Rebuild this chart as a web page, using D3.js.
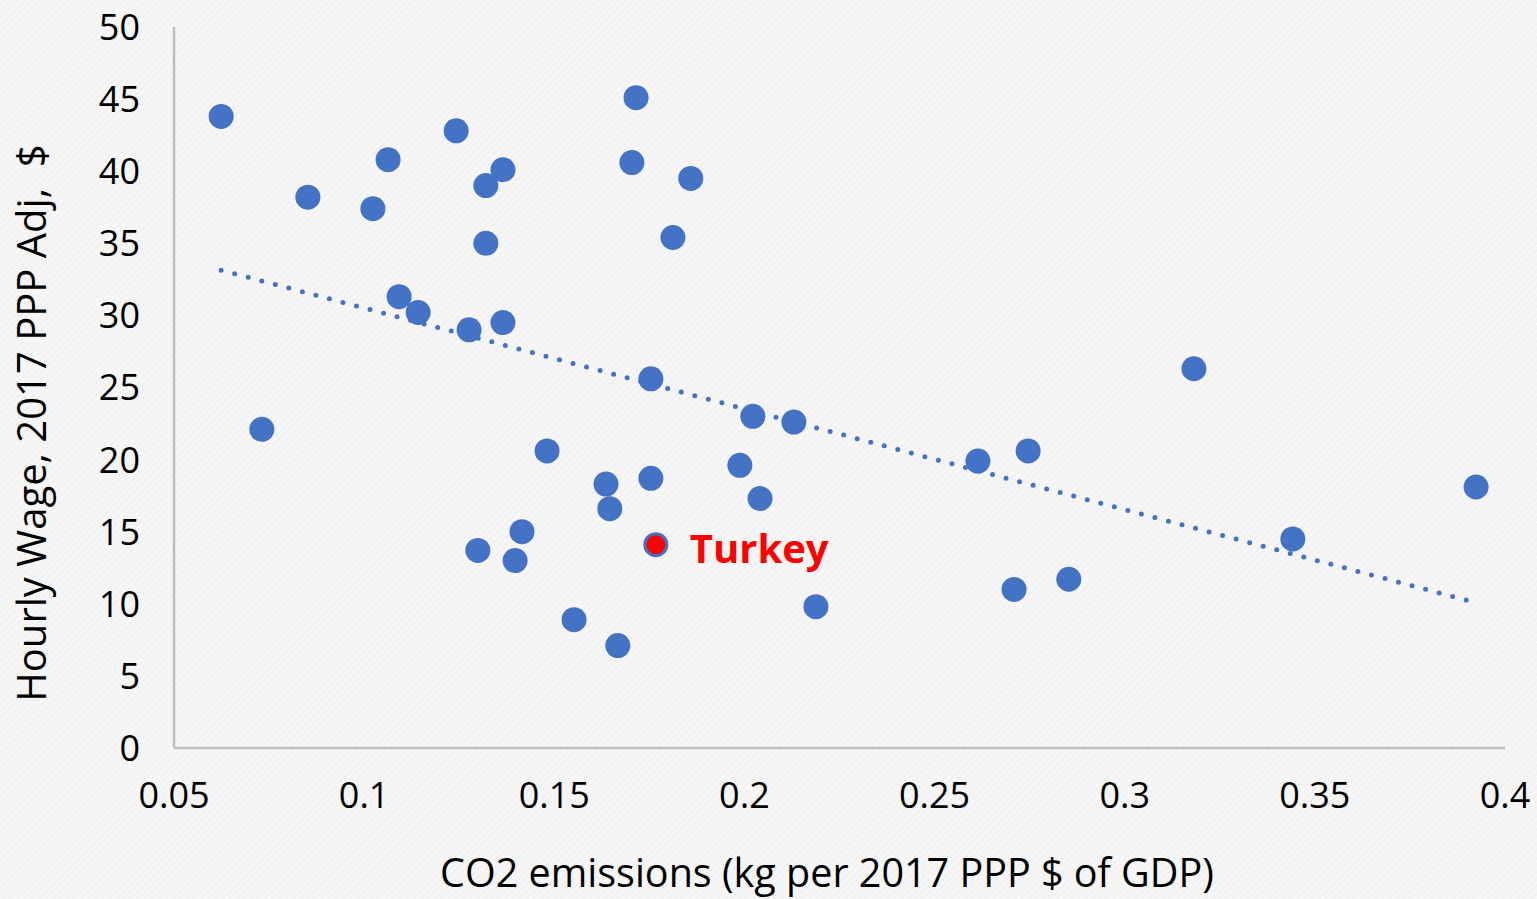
<!DOCTYPE html>
<html>
<head>
<meta charset="utf-8">
<script src="https://cdn.jsdelivr.net/npm/d3@7"></script>
<style>
  html, body { margin: 0; padding: 0; background: #f5f5f5; }
  svg { display: block; font-family: "Open Sans", "Noto Sans", sans-serif; }
</style>
</head>
<body>
<div id="chart"></div>
<script>
// CO2 intensity (kg per 2017 PPP $ of GDP) vs hourly wage
var co2 = [0.0624, 0.0731, 0.0852, 0.1023, 0.1063, 0.1092, 0.1142, 0.1242, 0.1276, 0.1299,
           0.1320, 0.1320, 0.1365, 0.1365, 0.1397, 0.1415, 0.1481, 0.1552, 0.1636, 0.1646,
           0.1667, 0.1704, 0.1715, 0.1754, 0.1754, 0.1812, 0.1859, 0.1988, 0.2022, 0.2041,
           0.2130, 0.2188, 0.2614, 0.2709, 0.2746, 0.2853, 0.3182, 0.3442, 0.3924];
var wage = [43.8, 22.1, 38.2, 37.4, 40.8, 31.3, 30.2, 42.8, 29.0, 13.7,
            39.0, 35.0, 40.1, 29.5, 13.0, 15.0, 20.6, 8.9, 18.3, 16.6,
            7.1, 40.6, 45.1, 25.6, 18.7, 35.4, 39.5, 19.6, 23.0, 17.3,
            22.6, 9.8, 19.9, 11.0, 20.6, 11.7, 26.3, 14.5, 18.1];
// highlighted country
var turkey = { name: "Turkey", co2: 0.1767, wage: 14.1 };

var xTicks = [0.05, 0.1, 0.15, 0.2, 0.25, 0.3, 0.35, 0.4];
var yTicks = [0, 5, 10, 15, 20, 25, 30, 35, 40, 45, 50];

var width = 1537, height = 899;
var blue = "#4472c4";

var svg = d3.select("#chart").append("svg")
    .attr("width", width)
    .attr("height", height);

// hatched background
var defs = svg.append("defs");
var pat = defs.append("pattern")
    .attr("id", "hatch")
    .attr("patternUnits", "userSpaceOnUse")
    .attr("width", 5).attr("height", 5)
    .attr("patternTransform", "rotate(45)");
pat.append("rect").attr("width", 5).attr("height", 5).attr("fill", "#f3f3f3");
pat.append("line")
    .attr("x1", 0).attr("y1", 0).attr("x2", 0).attr("y2", 5)
    .attr("stroke", "#fbfbfb").attr("stroke-width", 2);
svg.append("rect").attr("width", width).attr("height", height).attr("fill", "url(#hatch)");

var x = d3.scaleLinear().domain([0.05, 0.4]).range([174, 1505]);
var y = d3.scaleLinear().domain([0, 50]).range([748, 27]);

// axes lines
svg.append("line")
    .attr("x1", x(0.05)).attr("x2", x(0.05))
    .attr("y1", y(50)).attr("y2", y(0))
    .attr("stroke", "#bfbfbf").attr("stroke-width", 2.5);
svg.append("line")
    .attr("x1", x(0.05)).attr("x2", x(0.4))
    .attr("y1", y(0)).attr("y2", y(0))
    .attr("stroke", "#bfbfbf").attr("stroke-width", 2.5);

// tick labels
svg.append("g").selectAll("text")
    .data(yTicks).enter().append("text")
    .attr("x", 140)
    .attr("y", function (d) { return y(d); })
    .attr("dy", "0.36em")
    .attr("text-anchor", "end")
    .style("font-size", "36px")
    .attr("fill", "#000")
    .text(function (d) { return d; });

svg.append("g").selectAll("text")
    .data(xTicks).enter().append("text")
    .attr("x", function (d) { return x(d); })
    .attr("y", 808)
    .attr("text-anchor", "middle")
    .style("font-size", "36px")
    .attr("fill", "#000")
    .text(function (d) { return d; });

// axis titles
svg.append("text")
    .attr("x", 827).attr("y", 887)
    .attr("text-anchor", "middle")
    .style("font-size", "39.5px")
    .text("CO2 emissions (kg per 2017 PPP $ of GDP)");
svg.append("text")
    .attr("transform", "translate(46,423) rotate(-90)")
    .attr("text-anchor", "middle")
    .style("font-size", "40px")
    .style("white-space", "pre")
    .attr("xml:space", "preserve")
    .text("Hourly Wage, 2017 PPP Adj,  $");

// linear trend line (least squares over all points incl. Turkey)
var allX = co2.concat([turkey.co2]), allY = wage.concat([turkey.wage]);
var mx = d3.mean(allX), my = d3.mean(allY);
var sxy = d3.sum(allX, function (v, i) { return (v - mx) * (allY[i] - my); });
var sxx = d3.sum(allX, function (v) { return (v - mx) * (v - mx); });
var slope = sxy / sxx, icpt = my - slope * mx;
var x0 = d3.min(allX), x1 = d3.max(allX);
svg.append("line")
    .attr("x1", x(x0)).attr("y1", y(icpt + slope * x0))
    .attr("x2", x(x1)).attr("y2", y(icpt + slope * x1))
    .attr("stroke", blue)
    .attr("stroke-width", 5)
    .attr("stroke-linecap", "round")
    .attr("stroke-dasharray", "0,14");

// points
svg.append("g").selectAll("circle")
    .data(co2).enter().append("circle")
    .attr("cx", function (d) { return x(d); })
    .attr("cy", function (d, i) { return y(wage[i]); })
    .attr("r", 12.5)
    .attr("fill", blue);

svg.append("circle")
    .attr("cx", x(turkey.co2)).attr("cy", y(turkey.wage))
    .attr("r", 11)
    .attr("fill", "#ff0000")
    .attr("stroke", blue)
    .attr("stroke-width", 3);

svg.append("text")
    .attr("x", x(turkey.co2) + 34)
    .attr("y", y(turkey.wage) + 18)
    .style("font-size", "40px")
    .style("font-weight", "bold")
    .attr("fill", "#ff0000")
    .text(turkey.name);
</script>
</body>
</html>
